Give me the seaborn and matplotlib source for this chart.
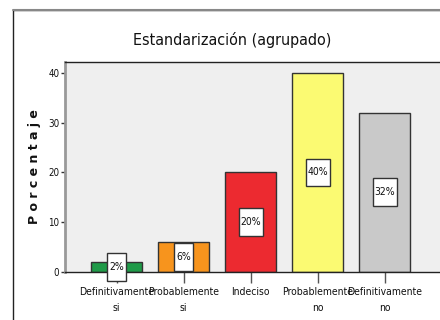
import matplotlib
matplotlib.use("Agg")
import matplotlib.pyplot as plt
import seaborn as sns
import pandas as pd
from matplotlib.patches import Rectangle

categories = ["Definitivamente\nsi", "Probablemente\nsi", "Indeciso", "Probablemente\nno", "Definitivamente\nno"]
values = [2, 6, 20, 40, 32]
labels = ["2%", "6%", "20%", "40%", "32%"]
colors = ["#1f9a48", "#f7941d", "#ec2a30", "#fbfa72", "#c9c9c9"]

sns.set_style("white")
plt.rcParams["font.family"] = ["DejaVu Sans"]
plt.rcParams["font.stretch"] = "condensed"
plt.rcParams["text.color"] = "#111111"
plt.rcParams["axes.labelcolor"] = "#111111"
plt.rcParams["xtick.labelcolor"] = "#111111"
plt.rcParams["ytick.labelcolor"] = "#111111"

fig = plt.figure(figsize=(4.4, 3.2), dpi=100)
fig.patch.set_facecolor("white")
fig.add_artist(Rectangle((13/440, -0.1), 1.2, (320-10)/320 + 0.1, transform=fig.transFigure,
                         fill=False, edgecolor="#222222", linewidth=1.0))
fig.add_artist(plt.Line2D([13/440, 1], [1-10/320, 1-10/320], transform=fig.transFigure,
                          color="#888888", linewidth=1.5))

ax = fig.add_axes([65/440, 1-272/320, 445/440 - 65/440, (272-62)/320])
df = pd.DataFrame({"cat": categories, "val": values})
sns.barplot(data=df, x="cat", y="val", hue="cat", palette=colors, legend=False, saturation=1,
            width=0.77, edgecolor="#333333", linewidth=1.0, ax=ax)
ax.set_facecolor("#efefef")
ax.set_xlim(-0.77, 4.9)
ax.set_ylim(0, 42.2)
ax.set_yticks([0, 10, 20, 30, 40])
ax.tick_params(axis="y", labelsize=7, length=3, width=1, color="#333333", pad=1)
ax.tick_params(axis="x", labelsize=7.5, length=8, width=1, color="#555555", pad=3)
ax.tick_params(axis="both", direction="out", left=True, bottom=True)
for t in ax.get_xticklabels():
    t.set_linespacing(1.7)
ax.spines["top"].set_color("#222222")
ax.spines["top"].set_linewidth(1.0)
ax.spines["left"].set_color("#999999")
ax.spines["left"].set_linewidth(2)
ax.spines["bottom"].set_color("#222222")
ax.spines["bottom"].set_linewidth(1.0)
ax.spines["right"].set_visible(False)

for i, (v, lab) in enumerate(zip(values, labels)):
    w = 0.28 if len(lab) == 2 else 0.36
    h = 5.6
    ax.add_patch(Rectangle((i - w / 2, v / 2 - h / 2), w, h, facecolor="white",
                           edgecolor="#333333", linewidth=1, zorder=5, clip_on=False))
    ax.text(i, v / 2, lab, ha="center", va="center", fontsize=7.5, zorder=6)

ax.set_xlabel("")
ax.set_ylabel("P o r c e n t a j e", fontsize=9, fontweight="bold", family=["DejaVu Sans"],
              stretch="normal", labelpad=5)
fig.text(232/440, 1-40/320, "Estandarización (agrupado)", ha="center", va="center", fontsize=11.5)

fig.savefig("out.png", dpi=100)
